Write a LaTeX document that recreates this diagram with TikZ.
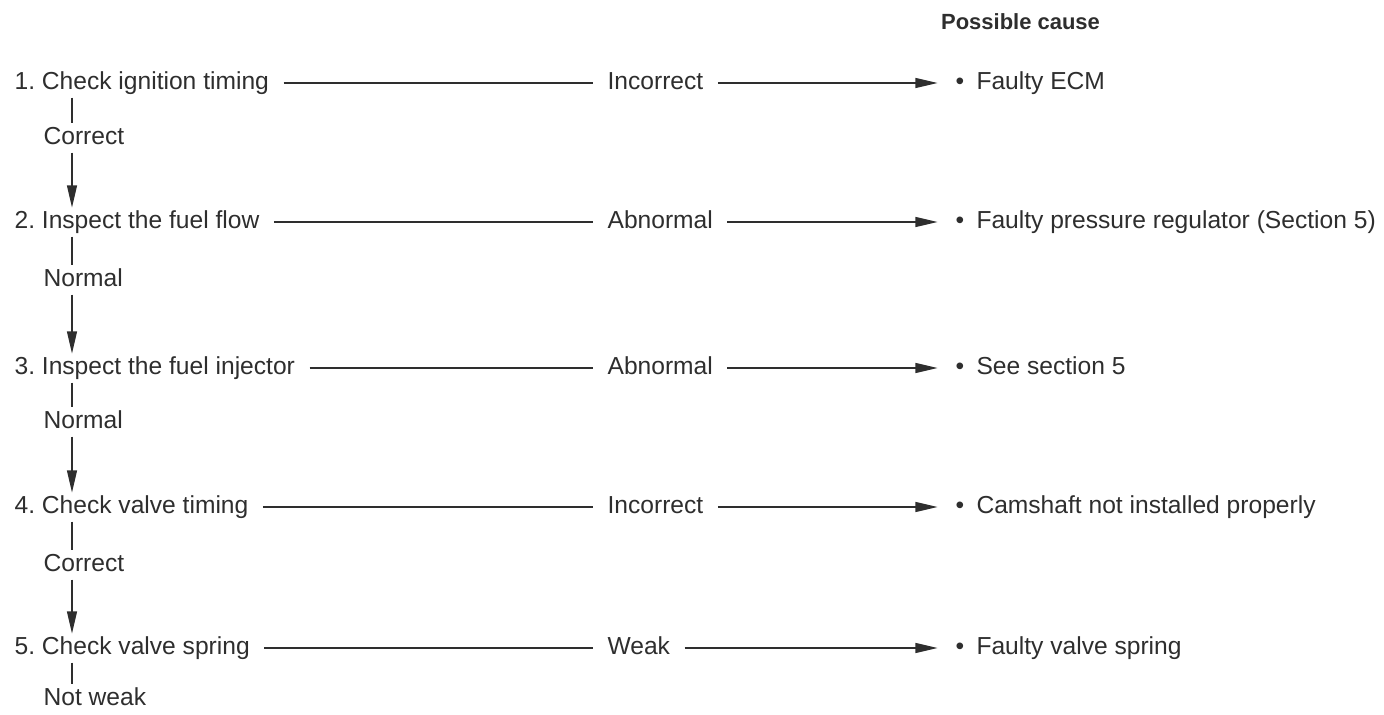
\documentclass[tikz,border=0pt]{standalone}
\usepackage{fontspec}
\setmainfont{Liberation Sans}
\usepackage{tikz}
\usetikzlibrary{arrows.meta}
\definecolor{inkgray}{HTML}{2e2e2e}

\begin{document}
\begin{tikzpicture}[>={Triangle[length=4.4mm,width=2mm]}, line width=0.6pt, draw=inkgray,
  every node/.style={font=\fontsize{14}{17}\selectfont, text=inkgray, inner xsep=8pt, inner ysep=4pt, text height=1.5ex, text depth=0pt},
  stepbox/.style={anchor=west},
  branch/.style={anchor=west},
  verdict/.style={anchor=west},
  cause/.style={anchor=west}]
\useasboundingbox (0,0) rectangle (27.68,-14.3);
\coordinate (v) at (1.44,0);

\node[font=\fontsize{12.5}{15}\selectfont\bfseries] (head) at (20.41,-0.46) {Possible cause};

\node[stepbox] (s1) at (0,-1.66)  {1.\ Check ignition timing};
\node[stepbox] (s2) at (0,-4.44)  {2.\ Inspect the fuel flow};
\node[stepbox] (s3) at (0,-7.36)  {3.\ Inspect the fuel injector};
\node[stepbox] (s4) at (0,-10.14) {4.\ Check valve timing};
\node[stepbox] (s5) at (0,-12.96) {5.\ Check valve spring};

\node[branch] (c1) at (0.58,-2.76)  {Correct};
\node[branch] (c2) at (0.58,-5.6)   {Normal};
\node[branch] (c3) at (0.58,-8.44)  {Normal};
\node[branch] (c4) at (0.58,-11.3)  {Correct};
\node[branch] (c5) at (0.58,-13.98) {Not weak};

\node[verdict] (r1) at (11.86,-1.66)  {Incorrect};
\node[verdict] (r2) at (11.86,-4.44)  {Abnormal};
\node[verdict] (r3) at (11.86,-7.36)  {Abnormal};
\node[verdict] (r4) at (11.86,-10.14) {Incorrect};
\node[verdict] (r5) at (11.86,-12.96) {Weak};

\node[cause] (p1) at (18.82,-1.66)  {\textbullet\hspace{.5em}Faulty ECM};
\node[cause] (p2) at (18.82,-4.44)  {\textbullet\hspace{.5em}Faulty pressure regulator (Section 5)};
\node[cause] (p3) at (18.82,-7.36)  {\textbullet\hspace{.5em}See section 5};
\node[cause] (p4) at (18.82,-10.14) {\textbullet\hspace{.5em}Camshaft not installed properly};
\node[cause] (p5) at (18.82,-12.96) {\textbullet\hspace{.5em}Faulty valve spring};

\draw (s1.east) -- (r1.west);
\draw (s2.east) -- (r2.west);
\draw (s3.east) -- (r3.west);
\draw (s4.east) -- (r4.west);
\draw (s5.east) -- (r5.west);
\draw[->, shorten >=2pt] (r1.east) -- (p1.west);
\draw[->, shorten >=2pt] (r2.east) -- (p2.west);
\draw[->, shorten >=2pt] (r3.east) -- (p3.west);
\draw[->, shorten >=2pt] (r4.east) -- (p4.west);
\draw[->, shorten >=2pt] (r5.east) -- (p5.west);

\draw (s1.south -| v) -- (c1.north -| v);
\draw[->] (c1.south -| v) -- (s2.north -| v);
\draw (s2.south -| v) -- (c2.north -| v);
\draw[->] (c2.south -| v) -- (s3.north -| v);
\draw (s3.south -| v) -- (c3.north -| v);
\draw[->] (c3.south -| v) -- (s4.north -| v);
\draw (s4.south -| v) -- (c4.north -| v);
\draw[->] (c4.south -| v) -- (s5.north -| v);
\draw (s5.south -| v) -- (c5.north -| v);
\end{tikzpicture}
\end{document}
